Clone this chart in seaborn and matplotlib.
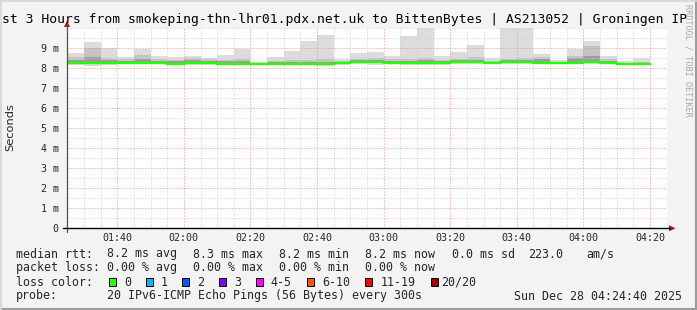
import numpy as np
import pandas as pd
import matplotlib
matplotlib.use("Agg")
import matplotlib.pyplot as plt
from matplotlib.patches import Rectangle, Polygon
from matplotlib.lines import Line2D
from matplotlib.ticker import FixedLocator, MultipleLocator
import seaborn as sns

# ---------------- data ----------------
bin_start_times = ["01:25", "01:30", "01:35", "01:40", "01:45", "01:50", "01:55",
                   "02:00", "02:05", "02:10", "02:15", "02:20", "02:25", "02:30",
                   "02:35", "02:40", "02:45", "02:50", "02:55", "03:00", "03:05",
                   "03:10", "03:15", "03:20", "03:25", "03:30", "03:35", "03:40",
                   "03:45", "03:50", "03:55", "04:00", "04:05", "04:10", "04:15"]
step_minutes = 5

rtt_max = [8.73, 9.30, 9.00, 8.52, 8.93, 8.60, 8.52, 8.60, 8.50, 8.62, 8.93, 8.28,
           8.52, 8.83, 9.33, 9.63, 8.43, 8.72, 8.78, 8.58, 9.58, 10.40, 8.60, 8.80,
           9.13, 8.48, 10.40, 10.40, 8.68, 8.38, 8.93, 9.35, 8.60, 8.33, 8.48]
rtt_p90 = [8.52, 8.97, 8.50, 8.42, 8.65, 8.42, 8.40, 8.48, 8.42, 8.40, 8.45, 8.25,
           8.32, 8.38, 8.40, 8.42, 8.33, 8.45, 8.50, 8.42, 8.45, 8.48, 8.40, 8.45,
           8.52, 8.35, 8.45, 8.48, 8.55, 8.30, 8.58, 9.10, 8.45, 8.26, 8.28]
rtt_p75 = [8.40, 8.55, 8.38, 8.33, 8.42, 8.33, 8.32, 8.40, 8.35, 8.32, 8.33, 8.22,
           8.27, 8.30, 8.30, 8.30, 8.28, 8.38, 8.40, 8.33, 8.35, 8.38, 8.33, 8.38,
           8.40, 8.30, 8.38, 8.40, 8.42, 8.28, 8.47, 8.60, 8.35, 8.22, 8.23]
rtt_median = [8.25, 8.25, 8.25, 8.25, 8.25, 8.25, 8.20, 8.25, 8.25, 8.20, 8.20, 8.20,
              8.20, 8.20, 8.20, 8.18, 8.22, 8.28, 8.28, 8.25, 8.25, 8.25, 8.25, 8.30,
              8.30, 8.25, 8.30, 8.30, 8.25, 8.25, 8.25, 8.30, 8.25, 8.20, 8.20]
rtt_p25 = [8.21, 8.20, 8.21, 8.22, 8.22, 8.22, 8.17, 8.20, 8.21, 8.17, 8.17, 8.18,
           8.17, 8.17, 8.17, 8.15, 8.19, 8.24, 8.22, 8.22, 8.21, 8.21, 8.22, 8.26,
           8.26, 8.22, 8.26, 8.26, 8.22, 8.22, 8.21, 8.25, 8.22, 8.18, 8.18]
rtt_min = [8.16, 8.10, 8.15, 8.18, 8.17, 8.18, 8.12, 8.14, 8.16, 8.13, 8.13, 8.15,
           8.12, 8.12, 8.12, 8.11, 8.14, 8.18, 8.16, 8.17, 8.15, 8.15, 8.16, 8.20,
           8.19, 8.18, 8.20, 8.21, 8.17, 8.18, 8.17, 8.19, 8.18, 8.15, 8.15]

x_tick_labels = ["01:40", "02:00", "02:20", "02:40", "03:00", "03:20", "03:40", "04:00", "04:20"]
y_tick_values = [0, 1, 2, 3, 4, 5, 6, 7, 8, 9]
y_tick_labels = ["0", "1 m", "2 m", "3 m", "4 m", "5 m", "6 m", "7 m", "8 m", "9 m"]

title_text = "st 3 Hours from smokeping-thn-lhr01.pdx.net.uk to BittenBytes | AS213052 | Groningen IP"
stats_rtt = [("median rtt:", 16), ("8.2 ms avg", 107.3), ("8.3 ms max", 193.3), ("8.2 ms min", 279.3),
             ("8.2 ms now", 365), ("0.0 ms sd", 451.7), ("223.0", 528.5), ("am/s", 586)]
stats_loss = [("packet loss:", 16), ("0.00 % avg", 107.3), ("0.00 % max", 193.3),
              ("0.00 % min", 279.3), ("0.00 % now", 365)]
loss_labels = ["0", "1", "2", "3", "4-5", "6-10", "11-19", "20/20"]
loss_colors = ["#26ff00", "#00b8ff", "#0059ff", "#7e00ff", "#ff00ff", "#ff5500", "#ff0000", "#a10000"]
probe_text = "20 IPv6-ICMP Echo Pings (56 Bytes) every 300s"
date_text = "Sun Dec 28 04:24:40 2025"

# ---------------- helpers ----------------
W, H = 697, 310
def fx(x):
    return x / W
def fy(y):
    return 1 - y / H

def to_min(s):
    h, m = s.split(":")
    return int(h) * 60 + int(m)

t_start = np.array([to_min(s) for s in bin_start_times], dtype=float)
x_ticks = [to_min(s) for s in x_tick_labels]

mono = "DejaVu Sans Mono"
sns.set_style("white")
plt.rcParams["font.family"] = ["DejaVu Sans"]

fig = plt.figure(figsize=(W / 100, H / 100), dpi=100)
fig.patch.set_facecolor("#f3f3f3")

ax_left, ax_right, ax_bottom, ax_top = 67, 667.3, 228.3, 27.6
ax = fig.add_axes([fx(ax_left), fy(ax_bottom), (ax_right - ax_left) / W, (ax_bottom - ax_top) / H])
ax.set_facecolor("white")

# smoke layers
df = pd.DataFrame({"t": t_start, "min": rtt_min, "p25": rtt_p25, "median": rtt_median,
                   "p75": rtt_p75, "p90": rtt_p90, "max": rtt_max})
ax.bar(df["t"], df["max"] - df["min"], bottom=df["min"], width=step_minutes, align="edge",
       color="#dcdcdc", linewidth=0, zorder=1)
ax.bar(df["t"], df["p90"] - df["p25"], bottom=df["p25"], width=step_minutes, align="edge",
       color="#c4c4c4", linewidth=0, zorder=1.1)
ax.bar(df["t"], df["p75"] - df["p25"], bottom=df["p25"], width=step_minutes, align="edge",
       color="#9c9c9c", linewidth=0, zorder=1.2)

# median line (steps)
med_df = pd.DataFrame({"t": np.append(t_start, t_start[-1] + step_minutes),
                       "median": np.append(df["median"].values, df["median"].values[-1])})
sns.lineplot(data=med_df, x="t", y="median", drawstyle="steps-post", color="#26ff00",
             linewidth=1.7, ax=ax, zorder=3, estimator=None, legend=False)

ax.set_xlim(84.9, 265.2)
ax.set_ylim(0, 10)

ax.xaxis.set_major_locator(FixedLocator(x_ticks))
ax.xaxis.set_minor_locator(MultipleLocator(5))
ax.yaxis.set_major_locator(FixedLocator(y_tick_values))
ax.yaxis.set_minor_locator(MultipleLocator(0.5))
ax.set_xticklabels(x_tick_labels, family=mono, fontsize=7.2)
ax.set_yticklabels(y_tick_labels, family=mono, fontsize=7.2)
ax.tick_params(axis="x", which="both", length=0, pad=3.6)
ax.tick_params(axis="y", which="major", length=3, width=0.7, color="#404040", pad=3.0, direction="out")
ax.tick_params(axis="y", which="minor", length=0)
ax.set_xlabel("")
ax.set_ylabel("")

dot = (0, (1, 2))
ax.grid(which="minor", color="#cfcfcf", linestyle=dot, linewidth=0.72, zorder=2)
ax.grid(which="major", color="#f09090", linestyle=dot, linewidth=0.72, zorder=2)
ax.set_axisbelow(False)
for sp in ax.spines.values():
    sp.set_visible(False)

# axes lines + arrows
fig.add_artist(Line2D([fx(67), fx(67)], [fy(231.5), fy(24)], color="#505050", lw=0.9))
fig.add_artist(Line2D([fx(63), fx(670)], [fy(228.3), fy(228.3)], color="#000000", lw=1.0))
fig.add_artist(Polygon([[fx(64), fy(27)], [fx(70), fy(27)], [fx(67), fy(20.5)]], closed=True,
                       facecolor="#9a1a1a", edgecolor="none", transform=fig.transFigure))
fig.add_artist(Polygon([[fx(669), fy(225.3)], [fx(669), fy(231.3)], [fx(675.5), fy(228.3)]], closed=True,
                       facecolor="#9a1a1a", edgecolor="none", transform=fig.transFigure))

# title
fig.text(fx(2), fy(19), title_text, family=mono, fontsize=9.35, ha="left", va="center", color="#000000")
# y label
fig.text(fx(10), fy(127), "Seconds", rotation=90, fontsize=8.2, ha="center", va="center")
# watermark
fig.text(fx(688), fy(60), "RRDTOOL / TOBI OETIKER", rotation=270, family=mono, fontsize=6.1,
         ha="center", va="center", color="#a8a8a8")

# legend lines
for txt, x in stats_rtt:
    fig.text(fx(x), fy(254), txt, family=mono, fontsize=8.4, ha="left", va="center")
for txt, x in stats_loss:
    fig.text(fx(x), fy(267.8), txt, family=mono, fontsize=8.4, ha="left", va="center")
fig.text(fx(16), fy(282), "loss color:", family=mono, fontsize=8.4, ha="left", va="center")
box_x = [109, 145.7, 182.4, 219.1, 255.8, 307, 365.3, 430.7]
text_x = [124, 160.7, 197.4, 234.1, 270.8, 322, 380.7, 440.7]
for lbl, col, bx, tx in zip(loss_labels, loss_colors, box_x, text_x):
    fig.add_artist(Rectangle((fx(bx), fy(285.6)), 7 / W, 7.4 / H, transform=fig.transFigure,
                             facecolor=col, edgecolor="#000000", linewidth=0.7))
    fig.text(fx(tx), fy(282), lbl, family=mono, fontsize=8.4, ha="left", va="center")
fig.text(fx(16), fy(296), "probe:", family=mono, fontsize=8.4, ha="left", va="center")
fig.text(fx(107.3), fy(296), probe_text, family=mono, fontsize=8.4, ha="left", va="center")
fig.text(fx(514), fy(296), date_text, family=mono, fontsize=8.4, ha="left", va="center")

# frame border
fig.add_artist(Line2D([0, 1], [fy(309), fy(309)], color="#9c9c9c", lw=1.5))
fig.add_artist(Line2D([fx(696), fx(696)], [0, 1], color="#9c9c9c", lw=1.5))
fig.add_artist(Line2D([0, 1], [fy(0.7), fy(0.7)], color="#d4d4d4", lw=1.2))
fig.add_artist(Line2D([fx(0.7), fx(0.7)], [0, 1], color="#d4d4d4", lw=1.2))

fig.savefig("out.png", dpi=100, facecolor=fig.get_facecolor())
